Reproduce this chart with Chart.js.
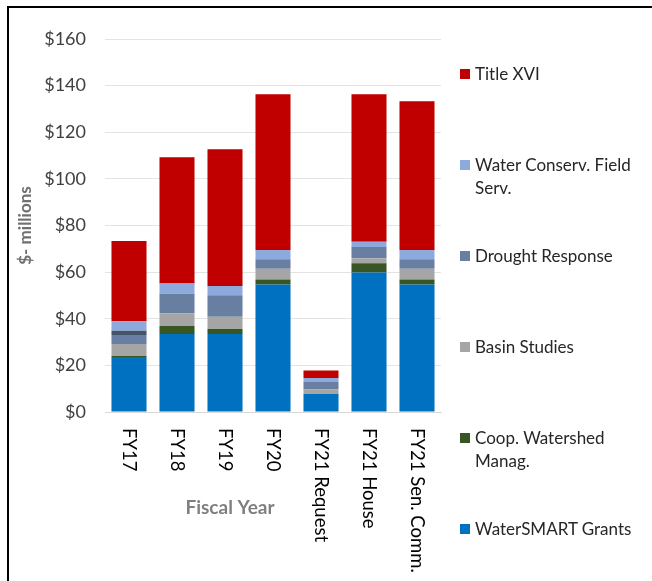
<!DOCTYPE html>
<html>
<head>
<meta charset="utf-8">
<script src="https://cdn.jsdelivr.net/npm/chart.js@4.4.1/dist/chart.umd.min.js"></script>
<style>
  html, body { margin: 0; padding: 0; background: #fff; }
  #wrap { position: relative; width: 652px; height: 581px; overflow: hidden; }
  #frame { position: absolute; left: 7px; top: 6px; right: 0; bottom: 0;
           border-left: 2px solid #000; border-top: 2px solid #000; pointer-events: none; }
  #legend { position: absolute; left: 0; top: 0; font-family: Lato, sans-serif;
            font-size: 17px; color: #262626; line-height: 23px; }
  .item { position: absolute; left: 460px; width: 190px; }
  .sw { position: absolute; left: 0; top: 7px; width: 10px; height: 10px; }
  .txt { margin-left: 15px; }
</style>
</head>
<body>
<div id="wrap">
  <canvas id="chart" width="652" height="581"></canvas>
  <div id="legend"></div>
  <div id="frame"></div>
</div>
<script>
'use strict';

// fiscal years on the x axis
var years = ['FY17', 'FY18', 'FY19', 'FY20', 'FY21 Request', 'FY21 House', 'FY21 Sen. Comm.'];

// $ millions (bottom of stack first)
var waterSmart   = [23.6, 33.5, 33.5, 54.7, 7.7, 59.8, 54.7];
var coopWatershed = [0.4, 3.4, 2.1, 2.1, 0, 4.0, 2.1];
var basinStudies = [5.2, 5.5, 5.3, 4.6, 2.0, 2.2, 4.6];
var drought      = [3.8, 8.3, 9.2, 4.1, 3.2, 4.8, 4.1];
var otherUnnamed = [1.9, 0, 0, 0, 0, 0, 0];
var fieldServ    = [4.0, 4.4, 4.0, 4.0, 1.7, 2.2, 4.0];
var titleXVI     = [34.5, 54.2, 58.6, 66.8, 3.2, 63.3, 63.8];

var yTicks = [0, 20, 40, 60, 80, 100, 120, 140, 160];

var series = [
  { label: 'WaterSMART Grants', data: waterSmart, color: '#0070C0', legend: true },
  { label: 'Coop. Watershed Manag.', data: coopWatershed, color: '#375623', legend: true },
  { label: 'Basin Studies', data: basinStudies, color: '#A5A5A5', legend: true },
  { label: 'Drought Response', data: drought, color: '#687FA2', legend: true },
  { label: 'Other', data: otherUnnamed, color: '#44546A', legend: false },
  { label: 'Water Conserv. Field Serv.', data: fieldServ, color: '#8EA9DB', legend: true },
  { label: 'Title XVI', data: titleXVI, color: '#C00000', legend: true },
];

// legend, top to bottom like the original
var legendTops = { 'Title XVI': 62, 'Water Conserv. Field Serv.': 153, 'Drought Response': 244,
  'Basin Studies': 335, 'Coop. Watershed Manag.': 426, 'WaterSMART Grants': 517 };
var legendText = { 'Water Conserv. Field Serv.': 'Water Conserv. Field<br>Serv.',
  'Coop. Watershed Manag.': 'Coop. Watershed<br>Manag.' };
var legendBox = document.getElementById('legend');
for (var i = series.length - 1; i >= 0; i--) {
  var s = series[i];
  if (!s.legend) continue;
  var item = document.createElement('div');
  item.className = 'item';
  item.style.top = legendTops[s.label] + 'px';
  item.innerHTML = '<div class="sw" style="background:' + s.color + '"></div>' +
    '<div class="txt">' + (legendText[s.label] || s.label) + '</div>';
  legendBox.appendChild(item);
}

// x labels read top-to-bottom and a free-standing axis title
var xLabelsPlugin = {
  id: 'xLabels',
  afterDraw: function(chart) {
    var ctx = chart.ctx;
    var xs = chart.scales.x;
    ctx.save();
    ctx.fillStyle = '#000';
    ctx.font = '18.5px Lato';
    ctx.textAlign = 'left';
    ctx.textBaseline = 'middle';
    for (var i = 0; i < years.length; i++) {
      ctx.save();
      ctx.translate(xs.getPixelForTick(i), 428);
      ctx.rotate(Math.PI / 2);
      ctx.fillText(years[i], 0, 0);
      ctx.restore();
    }
    ctx.font = 'bold 19px Lato';
    ctx.fillStyle = '#7F7F7F';
    ctx.textAlign = 'center';
    ctx.fillText('Fiscal Year', 230, 508);
    ctx.restore();
  }
};

new Chart(document.getElementById('chart'), {
  type: 'bar',
  data: {
    labels: years,
    datasets: series.map(function(s) {
      return { label: s.label, data: s.data, backgroundColor: s.color, borderWidth: 0,
        categoryPercentage: 1, barPercentage: 0.73 };
    }),
  },
  options: {
    responsive: false,
    animation: false,
    layout: { padding: { left: 10, top: 39, right: 211, bottom: 0 } },
    plugins: { legend: { display: false }, tooltip: { enabled: false } },
    scales: {
      x: {
        stacked: true,
        grid: { display: false },
        border: { color: '#D9D9D9', width: 1 },
        ticks: { display: false },
        afterFit: function(scale) { scale.height = 169; },
      },
      y: {
        stacked: true,
        min: 0,
        max: 160,
        afterBuildTicks: function(scale) {
          scale.ticks = yTicks.map(function(v) { return { value: v }; });
        },
        afterFit: function(scale) { scale.width = 95; },
        grid: { color: '#E3E3E3', drawTicks: false },
        border: { display: false },
        ticks: {
          padding: 19,
          color: '#404040',
          font: { family: 'Lato', size: 18 },
          callback: function(v) { return '$' + v; },
        },
        title: {
          display: true,
          text: '$- millions',
          color: '#6F6F6F',
          font: { family: 'Lato', size: 17, weight: 'bold' },
          padding: { top: 5, bottom: 0 },
        },
      },
    },
  },
  plugins: [xLabelsPlugin],
});
</script>
</body>
</html>
